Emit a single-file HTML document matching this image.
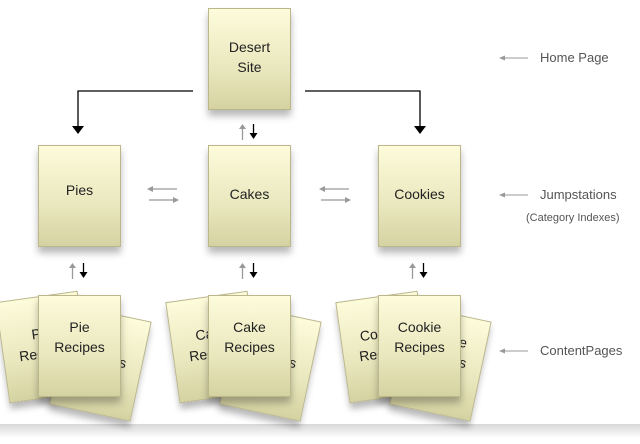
<!DOCTYPE html>
<html><head><style>
body{margin:0;width:640px;height:444px;background:#fff;position:relative;overflow:hidden;font-family:"Liberation Sans",sans-serif;color:#222}
.c{position:absolute;width:81px;height:100px;border:1px solid #bbb78a;background:linear-gradient(#fdfcdb,#e9e7bd 60%,#d5d2a2);box-shadow:0 6px 7px rgba(0,0,0,.28);box-sizing:content-box;display:flex;align-items:center;justify-content:center;text-align:center;font-size:14px;line-height:20px}
.l{position:absolute;font-size:13px;color:#555}
</style></head><body>
<div style="position:absolute;left:0;top:424px;width:640px;height:14px;background:linear-gradient(#d8d8d8,#fff)"></div>

<div class="c" style="left:2px;top:296px;transform:rotate(-8deg)"><span style="padding-bottom:8px">Pie<br>Recipes</span></div>
<div class="c" style="left:59px;top:312px;transform:rotate(12deg)"><span style="padding-bottom:30px">Pie<br>Recipes</span></div>
<div class="c" style="left:172px;top:296px;transform:rotate(-8deg)"><span style="padding-bottom:8px">Cake<br>Recipes</span></div>
<div class="c" style="left:229px;top:312px;transform:rotate(12deg)"><span style="padding-bottom:30px">Cake<br>Recipes</span></div>
<div class="c" style="left:342px;top:296px;transform:rotate(-8deg)"><span style="padding-bottom:8px">Cookie<br>Recipes</span></div>
<div class="c" style="left:399px;top:312px;transform:rotate(12deg)"><span style="padding-bottom:30px">Cookie<br>Recipes</span></div>

<div class="c" style="left:38px;top:295px"><span style="padding-bottom:18px">Pie<br>Recipes</span></div>
<div class="c" style="left:208px;top:295px"><span style="padding-bottom:18px">Cake<br>Recipes</span></div>
<div class="c" style="left:378px;top:295px"><span style="padding-bottom:18px">Cookie<br>Recipes</span></div>

<div class="c" style="left:208px;top:8px"><span style="padding-bottom:4px">Desert<br>Site</span></div>
<div class="c" style="left:38px;top:145px"><span style="padding-bottom:12px">Pies</span></div>
<div class="c" style="left:208px;top:145px"><span style="padding-bottom:4px">Cakes</span></div>
<div class="c" style="left:378px;top:145px"><span style="padding-bottom:4px">Cookies</span></div>

<svg width="640" height="444" style="position:absolute;left:0;top:0">
<g fill="none" stroke="#000" stroke-width="1.3">
<path d="M193,91H78V126"/><path d="M305,91H420V126"/>
</g>
<path d="M72,126h12l-6,8z M414,126h12l-6,8z" fill="#000"/>
<g id="ud">
<path d="M72.5,279V267" stroke="#999" stroke-width="1.3"/><path d="M69,268h7l-3.5,-5z" fill="#999"/>
<path d="M83.5,263V273" stroke="#000" stroke-width="1.3"/><path d="M79.5,272h8l-4,6z" fill="#000"/>
</g>
<use href="#ud" x="170"/><use href="#ud" x="340"/>
<use href="#ud" x="170" y="-139"/>
<g id="lr" stroke="#999" stroke-width="1.3">
<path d="M151,189H177"/><path d="M149,200H174"/>
<path d="M147,189l6,-3v6z M179,200l-6,-3v6z" fill="#999" stroke="none"/>
</g>
<use href="#lr" x="172"/>
<g stroke="#999" stroke-width="1"><path d="M502,58H528"/><path d="M502,195H528"/><path d="M502,351H528"/></g>
<path d="M499,58l6,-2.5v5z M499,195l6,-2.5v5z M499,351l6,-2.5v5z" fill="#999"/>
</svg>
<div class="l" style="left:540px;top:50px">Home Page</div>
<div class="l" style="left:540px;top:187px">Jumpstations</div>
<div class="l" style="left:526px;top:212px;font-size:11px">(Category Indexes)</div>
<div class="l" style="left:540px;top:343px">ContentPages</div>
</body></html>
